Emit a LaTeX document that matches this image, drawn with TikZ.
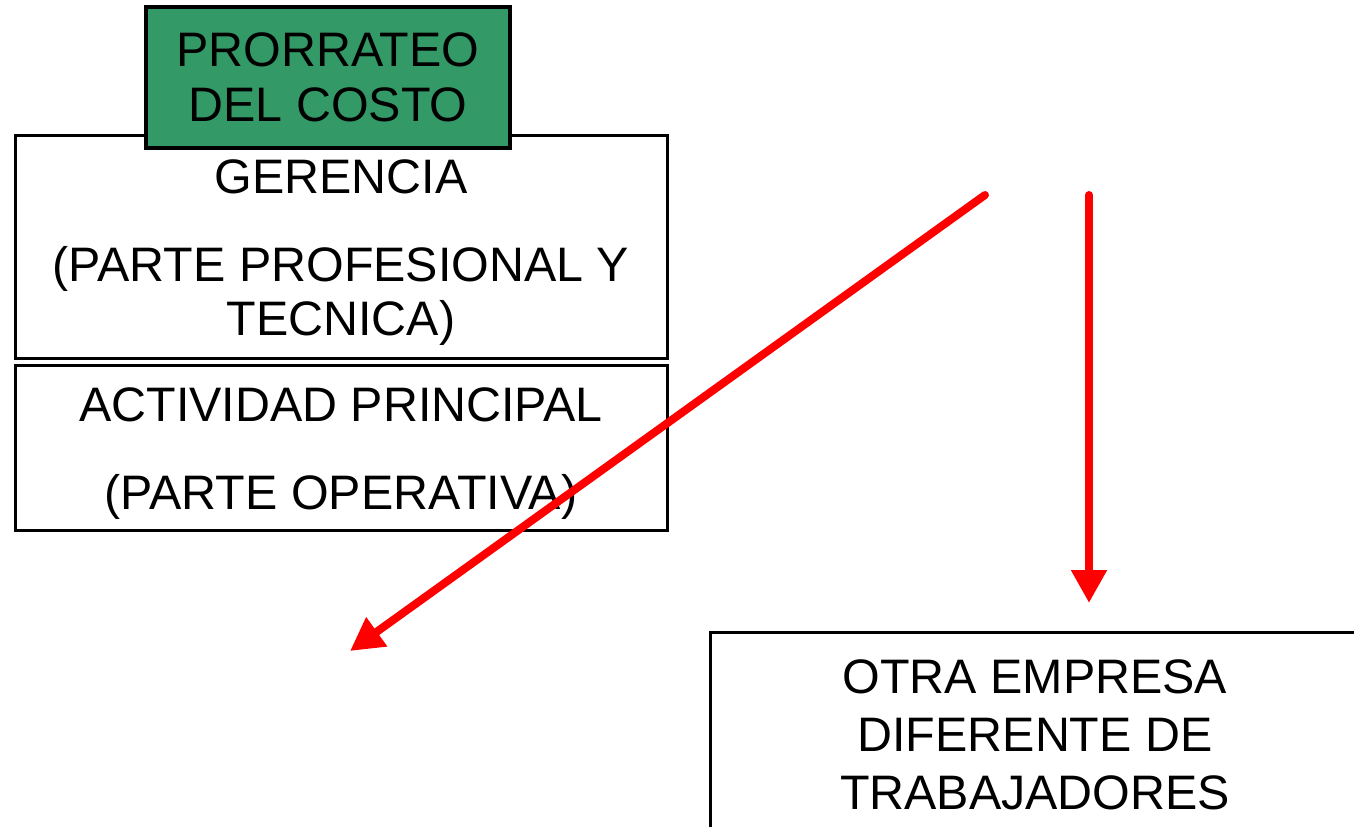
\documentclass[tikz,border=0pt]{standalone}
\usepackage{fontspec}
\setmainfont{Liberation Sans}
\usetikzlibrary{arrows.meta}
\definecolor{verdecosto}{RGB}{51,153,102}
\begin{document}
\begin{tikzpicture}[x=0.5pt,y=-0.5pt,
	caja/.style={draw=black, line width=1.5pt, fill=white, align=center, inner sep=0pt,
		font=\fontsize{24.2}{27.5}\selectfont},
	titulo/.style={caja, fill=verdecosto, line width=2.2pt},
	flecha/.style={draw=red, line width=4pt, line cap=round,
		-{Triangle[length=16.5pt,width=17pt]}}]

				\clip (0,0) rectangle (1354,826);

				% bloques de la empresa
				\node[caja, minimum width=326pt, minimum height=111.5pt] (gerencia) at (341,246.5)
					{\rule{0pt}{23.5pt}GERENCIA\\[16pt](PARTE PROFESIONAL Y\\TECNICA)};
				\node[caja, minimum width=326pt, minimum height=82.5pt] (actividad) at (341,447.5)
					{\rule{0pt}{22.5pt}ACTIVIDAD PRINCIPAL\\[16.5pt](PARTE OPERATIVA)};
				\node[titulo, minimum width=182pt, minimum height=70.5pt] (prorrateo) at (328,77.5)
					{PRORRATEO\\DEL COSTO};

				\node[caja, font=\fontsize{24.2}{29}\selectfont, minimum width=325pt, minimum height=103pt] (otra) at (1035,735)
					{OTRA EMPRESA\\DIFERENTE DE\\TRABAJADORES};

				% flechas
				\coordinate (ini1) at (985,195);
				\coordinate (fin1) at (350,651);
				\coordinate (ini2) at (1089,195);
				\coordinate (fin2) at (1089,603);

				\draw[flecha] (ini1) -- (fin1);
				\draw[flecha] (ini2) -- (fin2);

\end{tikzpicture}
\end{document}
